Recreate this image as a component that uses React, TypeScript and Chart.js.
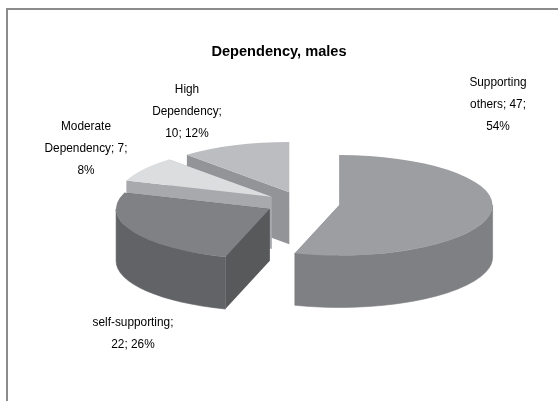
import React, { useEffect, useRef } from "react";
import { Chart, PieController, ArcElement, Title } from "chart.js";

const chartTitle = "Dependency, males";
const categories = ["Supporting others", "self-supporting", "Moderate Dependency", "High Dependency"];
const seriesValues = [47, 22, 7, 10];
const topColors = ["#9d9ea1", "#808184", "#dcddde", "#bcbdc0"];
const wallColors = ["#7f8083", "#626366", "#a7a9ac", "#929497"];
const cutColors = ["#7f8083", "#58595b", "#a7a9ac", "#929497"];
const labelLines = [
  ["Supporting", "others; 47;", "54%"],
  ["self-supporting;", "22; 26%"],
  ["Moderate", "Dependency; 7;", "8%"],
  ["High", "Dependency;", "10; 12%"],
];
const labelCenters = [
  [498, 82],
  [133, 322],
  [86, 126],
  [187, 89],
];
const labelLineHeight = 22;

// Pie geometry on the page: tilt squashes the circle, depth is the wall height.
const pieCenterX = 302.5;
const pieCenterY = 203.5;
const pieRadius = 153.5;
const squash = 0.327;
const wallDepth = 52;
const explode = 37;
const paintOrder = [3, 2, 1, 0];

const FONT = '"Liberation Sans", Arial, sans-serif';
const labelFontSize = 13;
const labelWidthScale = 0.91;

// A pie controller that tilts the slices and gives each one an extruded wall.
class ExtrudedPieController extends PieController {
  static id = "extrudedPie";

  draw() {
    const ctx = this.chart.ctx;
    const arcs = this.getMeta().data as any[];
    for (const i of paintOrder) {
      const arc = arcs[i];
      const { startAngle: a0, endAngle: a1, outerRadius: r } = arc;
      const mid = (a0 + a1) / 2;
      const cx = pieCenterX + Math.cos(mid) * explode;
      const cy = pieCenterY + Math.sin(mid) * explode * squash;
      const rimX = (a: number) => cx + Math.cos(a) * r;
      const rimY = (a: number) => cy + Math.sin(a) * r * squash;

      // Cut faces along both straight edges of the slice.
      ctx.fillStyle = cutColors[i];
      for (const a of [a0, a1]) {
        ctx.beginPath();
        ctx.moveTo(cx, cy);
        ctx.lineTo(rimX(a), rimY(a));
        ctx.lineTo(rimX(a), rimY(a) + wallDepth);
        ctx.lineTo(cx, cy + wallDepth);
        ctx.closePath();
        ctx.fill();
      }

      // Curved outer wall, only on the part of the rim facing the viewer.
      const from = Math.max(a0, 0);
      const to = Math.min(a1, Math.PI);
      if (to > from) {
        ctx.fillStyle = wallColors[i];
        ctx.strokeStyle = wallColors[i];
        ctx.lineWidth = 0.6;
        ctx.beginPath();
        ctx.ellipse(cx, cy, r, r * squash, 0, from, to);
        ctx.ellipse(cx, cy + wallDepth, r, r * squash, 0, to, from, true);
        ctx.closePath();
        ctx.fill();
        // A hairline in the wall colour closes the seam against the cut face.
        ctx.stroke();
      }

      // Top face: the library's own arc, drawn in the tilted plane.
      ctx.save();
      ctx.translate(cx, cy);
      ctx.scale(1, squash);
      ctx.translate(-arc.x, -arc.y);
      arc.draw(ctx);
      ctx.restore();
    }
  }
}

const frameAndLabels = {
  id: "frameAndLabels",
  beforeDraw(chart: Chart) {
    const ctx = chart.ctx;
    ctx.save();
    ctx.fillStyle = "#8c8c8c";
    ctx.fillRect(6, 8, chart.width - 6, 2);
    ctx.fillRect(6, 8, 2, chart.height - 8);
    ctx.restore();
  },
  afterDraw(chart: Chart) {
    const ctx = chart.ctx;
    ctx.save();
    ctx.fillStyle = "#000000";
    ctx.font = `${labelFontSize}px ${FONT}`;
    ctx.textAlign = "center";
    ctx.textBaseline = "middle";
    labelLines.forEach((lines, i) => {
      const [x, y] = labelCenters[i];
      lines.forEach((line, k) => {
        // The labels are set slightly condensed.
        ctx.save();
        ctx.translate(x, y + k * labelLineHeight);
        ctx.scale(labelWidthScale, 1);
        ctx.fillText(line, 0, 0);
        ctx.restore();
      });
    });
    ctx.restore();
  },
};

Chart.register(ExtrudedPieController, ArcElement, Title);

export default function App() {
  const canvasRef = useRef<HTMLCanvasElement>(null);

  useEffect(() => {
    const chart = new Chart(canvasRef.current!, {
      type: "extrudedPie" as any,
      data: {
        labels: categories,
        datasets: [
          {
            data: seriesValues,
            backgroundColor: topColors,
            borderWidth: 0,
            clip: false,
          } as any,
        ],
      },
      options: {
        responsive: false,
        animation: false,
        radius: pieRadius,
        plugins: {
          legend: { display: false },
          tooltip: { enabled: false },
          title: {
            display: true,
            text: chartTitle,
            color: "#000000",
            font: { family: FONT, size: 14.6, weight: "bold" },
            padding: { top: 43, bottom: 10 },
          },
        },
      } as any,
      plugins: [frameAndLabels],
    });
    return () => chart.destroy();
  }, []);

  return (
    <div style={{ position: "absolute", left: 0, top: 0, width: 558, height: 401 }}>
      <canvas ref={canvasRef} width={558} height={401} style={{ display: "block" }} />
    </div>
  );
}
